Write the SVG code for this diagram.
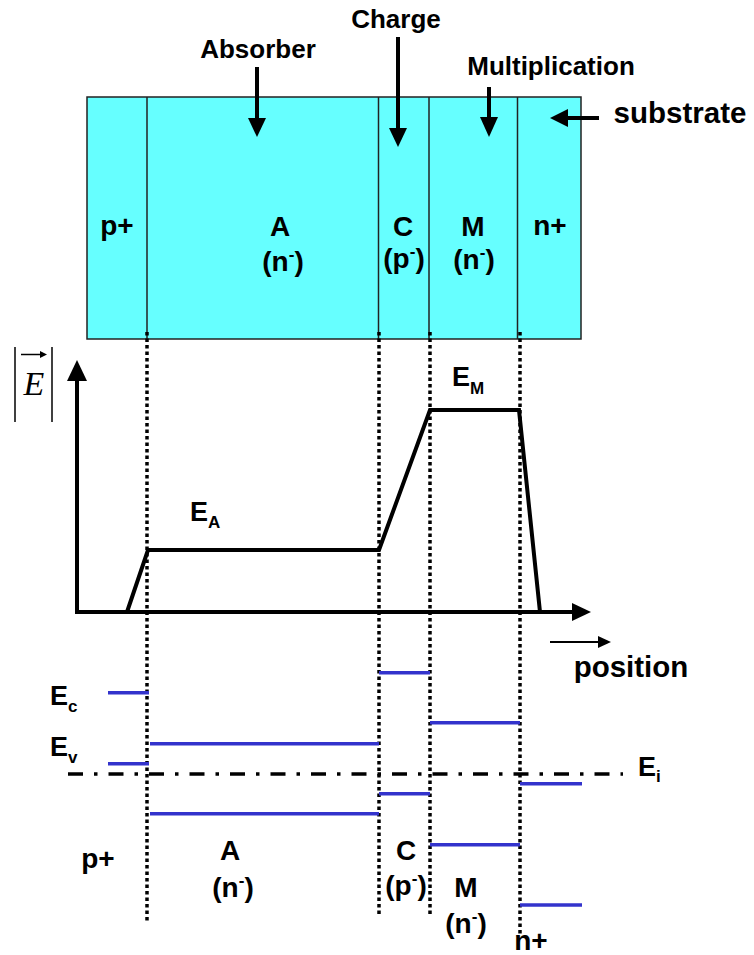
<svg xmlns="http://www.w3.org/2000/svg" width="754" height="955" viewBox="0 0 754 955">
<style>
.t{font-family:"Liberation Sans",Arial,sans-serif;font-weight:bold;fill:#000}
.lbl{font-size:26px}
.big{font-size:29.5px}
.reg{font-size:28px}
.sub{font-size:17px}
.dot{stroke:#000;stroke-width:3.5;stroke-dasharray:3.5 3;fill:none}
.band{stroke:#3333CC;stroke-width:3.5;fill:none}
.ax{stroke:#000;stroke-width:4;fill:none}
</style>
<rect width="754" height="955" fill="#fff"/>

<g id="device">
  <rect x="87" y="97" width="494" height="242" fill="#66FFFF" stroke="#222" stroke-width="1.5"/>
  <line x1="147" y1="97" x2="147" y2="339" stroke="#222" stroke-width="1.5"/>
  <line x1="378.5" y1="97" x2="378.5" y2="339" stroke="#222" stroke-width="1.5"/>
  <line x1="429" y1="97" x2="429" y2="339" stroke="#222" stroke-width="1.5"/>
  <line x1="517.5" y1="97" x2="517.5" y2="339" stroke="#222" stroke-width="1.5"/>
  <text class="t reg" x="117" y="235" text-anchor="middle">p+</text>
  <text class="t reg" x="280" y="236" text-anchor="middle">A</text>
  <text class="t reg" x="283" y="271" text-anchor="middle">(n<tspan font-size="17" dy="-11">-</tspan><tspan dy="11">)</tspan></text>
  <text class="t reg" x="403" y="236" text-anchor="middle">C</text>
  <text class="t reg" x="404" y="268" text-anchor="middle">(p<tspan font-size="17" dy="-11">-</tspan><tspan dy="11">)</tspan></text>
  <text class="t reg" x="473" y="236" text-anchor="middle">M</text>
  <text class="t reg" x="474" y="269" text-anchor="middle">(n<tspan font-size="17" dy="-11">-</tspan><tspan dy="11">)</tspan></text>
  <text class="t reg" x="550" y="235" text-anchor="middle">n+</text>
</g>

<g id="label-absorber">
  <text class="t lbl" x="258" y="58" text-anchor="middle">Absorber</text>
</g>
<g id="label-charge">
  <text class="t lbl" x="396" y="28" text-anchor="middle">Charge</text>
</g>
<g id="label-multiplication">
  <text class="t lbl" x="551" y="75" text-anchor="middle">Multiplication</text>
</g>
<g id="label-substrate">
  <text class="t big" x="680" y="123" text-anchor="middle">substrate</text>
</g>

<g id="connectors">
  <line x1="257" y1="67" x2="257" y2="120" stroke="#000" stroke-width="4"/>
  <polygon points="248,118 266,118 257,137" fill="#000"/>
  <line x1="398" y1="37" x2="398" y2="130" stroke="#000" stroke-width="4"/>
  <polygon points="389,128 407,128 398,147" fill="#000"/>
  <line x1="489" y1="87" x2="489" y2="119" stroke="#000" stroke-width="4"/>
  <polygon points="480,117 498,117 489,137" fill="#000"/>
  <line x1="599" y1="118" x2="566" y2="118" stroke="#000" stroke-width="4"/>
  <polygon points="568,109 568,127 550,118" fill="#000"/>
</g>

<g id="dotted-boundaries">
  <line class="dot" x1="147" y1="332" x2="147" y2="923"/>
  <line class="dot" x1="379" y1="332" x2="379" y2="915"/>
  <line class="dot" x1="430" y1="332" x2="430" y2="915"/>
  <line class="dot" x1="520" y1="332" x2="520" y2="935"/>
</g>

<g id="efield-plot">
  <line class="ax" x1="77" y1="612" x2="77" y2="378"/>
  <polygon points="67,381 87,381 77,360" fill="#000"/>
  <line class="ax" x1="75" y1="612" x2="574" y2="612"/>
  <polygon points="572,603 572,621 591,612" fill="#000"/>
  <polyline class="ax" points="127,612 148,550 379,550 430,410 519,410 540,612" stroke-linejoin="miter"/>
  <line x1="15" y1="347" x2="15" y2="422" stroke="#000" stroke-width="1.5"/>
  <line x1="52" y1="347" x2="52" y2="422" stroke="#000" stroke-width="1.5"/>
  <line x1="21" y1="354.5" x2="44" y2="354.5" stroke="#000" stroke-width="1.5"/>
  <polygon points="40,351 47,354.5 40,358" fill="#000"/>
  <text x="34" y="395" text-anchor="middle" style="font-family:'Liberation Serif','Times New Roman',serif;font-style:italic;font-size:34px">E</text>
  <text class="t" x="190" y="521" style="font-size:27px">E<tspan class="sub" dy="7">A</tspan></text>
  <text class="t" x="452" y="386" style="font-size:27px">E<tspan class="sub" dy="8">M</tspan></text>
</g>

<g id="position-arrow">
  <line x1="550" y1="642" x2="600" y2="642" stroke="#000" stroke-width="2"/>
  <polygon points="598,636 598,648 611,642" fill="#000"/>
  <text class="t big" x="631" y="677" text-anchor="middle">position</text>
</g>

<g id="band-diagram">
  <line x1="68" y1="774" x2="623" y2="774" stroke="#000" stroke-width="3.5" stroke-dasharray="15 11 3.5 11"/>
  <line class="band" x1="108" y1="692.7" x2="149" y2="692.7"/>
  <line class="band" x1="108" y1="763.7" x2="149" y2="763.7"/>
  <line class="band" x1="150" y1="743.7" x2="379" y2="743.7"/>
  <line class="band" x1="150" y1="813.7" x2="379" y2="813.7"/>
  <line class="band" x1="379" y1="672.7" x2="430" y2="672.7"/>
  <line class="band" x1="379" y1="793.7" x2="430" y2="793.7"/>
  <line class="band" x1="430" y1="722.7" x2="520" y2="722.7"/>
  <line class="band" x1="430" y1="844.7" x2="520" y2="844.7"/>
  <line class="band" x1="520" y1="783.7" x2="582" y2="783.7"/>
  <line class="band" x1="520" y1="905" x2="582" y2="905"/>
  <text class="t" x="50" y="705" style="font-size:27px">E<tspan class="sub" dy="7">c</tspan></text>
  <text class="t" x="50" y="756" style="font-size:27px">E<tspan class="sub" dy="7">v</tspan></text>
  <text class="t" x="638" y="776" style="font-size:27px">E<tspan class="sub" dy="6">i</tspan></text>
  <text class="t reg" x="98" y="868" text-anchor="middle">p+</text>
  <text class="t reg" x="230" y="860" text-anchor="middle">A</text>
  <text class="t reg" x="233" y="897" text-anchor="middle">(n<tspan font-size="17" dy="-11">-</tspan><tspan dy="11">)</tspan></text>
  <text class="t reg" x="406" y="860" text-anchor="middle">C</text>
  <text class="t reg" x="406" y="895" text-anchor="middle">(p<tspan font-size="17" dy="-11">-</tspan><tspan dy="11">)</tspan></text>
  <text class="t reg" x="466" y="897" text-anchor="middle">M</text>
  <text class="t reg" x="466" y="933" text-anchor="middle">(n<tspan font-size="17" dy="-11">-</tspan><tspan dy="11">)</tspan></text>
  <text class="t reg" x="531" y="950" text-anchor="middle">n+</text>
</g>
</svg>
